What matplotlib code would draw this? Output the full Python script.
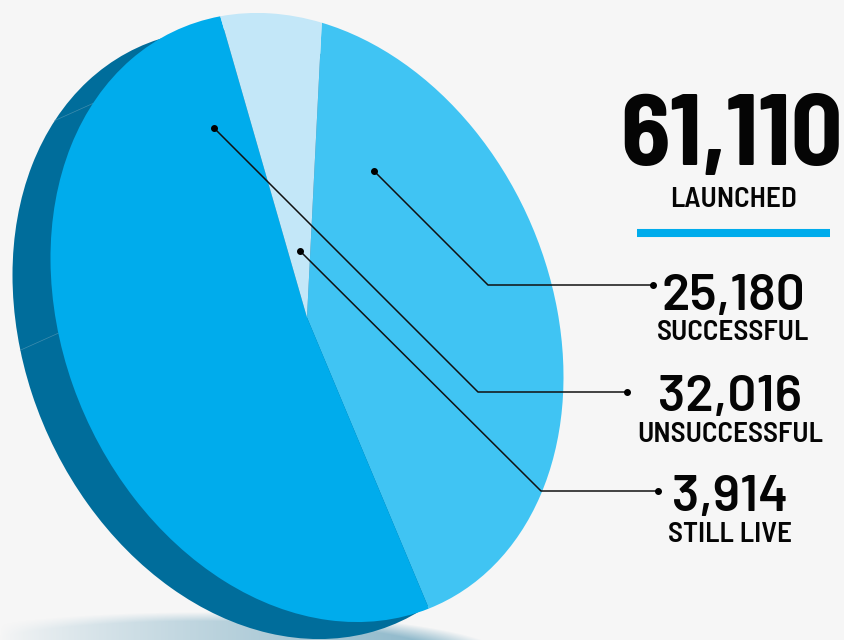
import numpy as np
import matplotlib
matplotlib.use('Agg')
import matplotlib.pyplot as plt
from matplotlib.transforms import Affine2D

plt.rcParams['font.family'] = ['Barlow Semi Condensed', 'Barlow', 'Roboto', 'DejaVu Sans']
number_font = ['Barlow', 'Roboto', 'DejaVu Sans']

# values
labels = ['SUCCESSFUL', 'UNSUCCESSFUL', 'STILL LIVE']
values = [25180, 32016, 3914]
value_labels = ['25,180', '32,016', '3,914']
total_label = '61,110'
total_name = 'LAUNCHED'
colors = ['#40c4f3', '#00acec', '#c3e7f8']
side_color = '#006d9b'
seam_angles = [146.6, 194.2]

# layout, picture pixels
label_x = [733, 730, 730]
number_base = [310, 411, 511]
name_base = [340, 442, 542]
lead_start = [(374, 171), (214, 128), (300, 251)]
lead_elbow = [(488, 285), (478, 392), (541, 491)]
lead_end = [(653, 285), (627, 392), (658, 491)]

bg = '#f6f6f6'
fig = plt.figure(figsize=(8.44, 6.4), dpi=100, facecolor=bg)
ax = fig.add_axes([0, 0, 1, 1])

# tilted disc: unit pie pushed through an affine map
tilt = np.array([[256.5, 0, 307], [59.4, -298.7, 317.5], [0, 0, 1]])
side_tilt = tilt.copy()
side_tilt[0, 2] -= 38
side_tilt[1, 2] += 17

side, _ = ax.pie([sum(values)], colors=[side_color], startangle=86.7, counterclock=False)
top, _ = ax.pie(values, colors=colors, startangle=86.7, counterclock=False)

ax.set_aspect('auto')
ax.set_axis_off()

for w in side:
    w.set_transform(Affine2D(side_tilt) + ax.transData)
    w.set_zorder(2)
for w in top:
    w.set_transform(Affine2D(tilt) + ax.transData)
    w.set_zorder(3)

# faint seams on the rim
for a in seam_angles:
    u, v = np.cos(np.radians(a)), np.sin(np.radians(a))
    p0 = tilt @ [u, v, 1]
    p1 = side_tilt @ [u, v, 1]
    ax.plot([p0[0], p1[0]], [p0[1], p1[1]], color='#3f8dae', lw=0.5, zorder=2.5)

# soft shadow under the disc
xx, yy = np.meshgrid(np.arange(844) + 0.5, np.arange(600, 640) + 0.5)
r = np.sqrt(((xx - 200) / 307) ** 2 + ((yy - 658) / 46) ** 2)
alpha = np.clip((1 - r) / 0.2, 0, 1) * np.clip(xx / 450, 0, 1) ** 0.8
rgba = np.zeros(xx.shape + (4,))
rgba[..., :3] = matplotlib.colors.to_rgb('#8ab6c9')
rgba[..., 3] = alpha
ax.imshow(rgba, extent=(0, 844, 640, 600), aspect='auto', zorder=1, interpolation='bilinear')
ax.set_xlim(0, 844)
ax.set_ylim(640, 0)

# leader lines
for s, e, t in zip(lead_start, lead_elbow, lead_end):
    ax.plot([s[0], e[0], t[0]], [s[1], e[1], t[1]], color='#111111', lw=1.1, zorder=5)
    ax.plot([s[0], t[0]], [s[1], t[1]], ls='', marker='o', ms=4, color='black', zorder=6)

# text column
ax.text(732, 165, total_label, fontsize=73, fontweight='bold', ha='center', va='baseline', color='#050505', zorder=7)
ax.text(733, 207, total_name, fontsize=21, fontweight='semibold', ha='center', va='baseline', color='#050505', zorder=7)
ax.plot([637, 829.5], [233, 233], color='#00acec', lw=5.8, solid_capstyle='butt', zorder=5)

for i in range(3):
    ax.text(label_x[i], number_base[i], value_labels[i], fontsize=37, fontweight='semibold', family=number_font,
            ha='center', va='baseline', color='#050505', zorder=7)
    ax.text(label_x[i], name_base[i], labels[i], fontsize=21, fontweight='semibold',
            ha='center', va='baseline', color='#050505', zorder=7)

fig.savefig('out.png', dpi=100, facecolor=bg)
